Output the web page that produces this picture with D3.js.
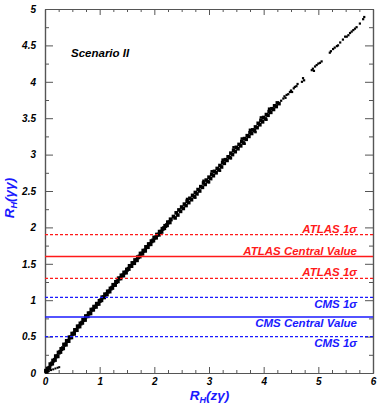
<!DOCTYPE html>
<html><head><meta charset="utf-8">
<script src="https://cdn.jsdelivr.net/npm/d3@7"></script>
<style>
html,body{margin:0;padding:0;background:#fff;}
svg text{font-family:"Liberation Sans",Arial,sans-serif;font-weight:bold;font-style:italic;}
</style></head>
<body>
<svg id="c" width="380" height="409"></svg>
<script>
// ---- data ----
const xTicks = [0,1,2,3,4,5,6];
const yTicks = [0,0.5,1,1.5,2,2.5,3,3.5,4,4.5,5];
const lineValues = [1.9, 1.6, 1.3, 1.04, 0.77, 0.5];
const lineLabels = ["ATLAS 1σ","ATLAS Central Value","ATLAS 1σ","CMS 1σ","CMS Central Value","CMS 1σ"];
const lineGroup  = ["ATLAS","ATLAS","ATLAS","CMS","CMS","CMS"];
const lineDashed = [true,false,true,true,false,true];

// scan points (R_H(zγ), R_H(γγ))
const hookPts = [[0.03,0.01],[0.07,0.025],[0.11,0.04],[0.15,0.05],[0.19,0.062],[0.23,0.072],[0.26,0.08]];
const lowBandA = [[0.02,0.03],[0.05,0.06],[0.10,0.12],[0.15,0.17],[0.20,0.23],[0.25,0.28],[0.30,0.33],[0.35,0.39],[0.40,0.44],[0.45,0.49],[0.50,0.54],[0.55,0.59],[0.60,0.64],[0.65,0.68],[0.70,0.73],[0.75,0.78],[0.80,0.82],[0.85,0.87],[0.90,0.91],[0.95,0.95],[1.00,0.99],[1.05,1.04],[1.10,1.08],[1.15,1.12],[1.20,1.16],[1.25,1.21],[1.30,1.25],[1.35,1.30],[1.40,1.34],[1.45,1.38],[1.50,1.42],[1.55,1.47],[1.60,1.51],[1.65,1.55],[1.70,1.59],[1.75,1.64],[1.80,1.68],[1.85,1.73],[1.90,1.77],[1.95,1.81],[2.00,1.86],[2.05,1.90],[2.10,1.94],[2.15,1.98],[2.20,2.02],[2.25,2.07],[2.30,2.11]];
const lowBandB = [[0.03,0.02],[0.08,0.07],[0.13,0.13],[0.18,0.18],[0.23,0.23],[0.28,0.29],[0.33,0.34],[0.38,0.39],[0.43,0.44],[0.48,0.49],[0.53,0.54],[0.58,0.59],[0.63,0.64],[0.68,0.69],[0.73,0.73],[0.78,0.78],[0.83,0.82],[0.88,0.87],[0.93,0.91],[0.98,0.95],[1.03,1.00],[1.08,1.04],[1.13,1.08],[1.18,1.12],[1.23,1.17],[1.28,1.21],[1.33,1.26],[1.38,1.30],[1.43,1.34],[1.48,1.38],[1.53,1.43],[1.58,1.47],[1.63,1.51],[1.68,1.55],[1.73,1.60],[1.78,1.64],[1.83,1.68],[1.88,1.73],[1.93,1.77],[1.98,1.82],[2.03,1.86],[2.08,1.90],[2.13,1.94],[2.18,1.99],[2.23,2.03],[2.28,2.07]];
const midBandC = [[2.35,2.15],[2.40,2.20],[2.45,2.24],[2.50,2.28],[2.55,2.32],[2.60,2.36],[2.65,2.40],[2.70,2.44],[2.75,2.48],[2.80,2.52],[2.85,2.56],[2.90,2.61],[2.95,2.65],[3.00,2.69],[3.05,2.73],[3.10,2.77],[3.15,2.81],[3.20,2.85],[3.25,2.89],[3.30,2.93],[3.35,2.97],[3.40,3.02],[3.45,3.06],[3.50,3.10],[3.55,3.14],[3.60,3.18],[3.65,3.22],[3.70,3.26],[3.75,3.30],[3.80,3.34],[3.85,3.38],[3.90,3.43],[3.95,3.47],[4.00,3.51],[4.05,3.55],[4.10,3.59],[4.15,3.63],[4.20,3.67],[4.25,3.71]];
const midBandD = [[2.38,2.13],[2.43,2.17],[2.48,2.22],[2.53,2.26],[2.58,2.30],[2.63,2.34],[2.68,2.38],[2.73,2.42],[2.78,2.46],[2.83,2.50],[2.88,2.55],[2.93,2.59],[2.98,2.63],[3.03,2.67],[3.08,2.71],[3.13,2.75],[3.18,2.79],[3.23,2.83],[3.28,2.88],[3.33,2.92],[3.38,2.96],[3.43,3.00],[3.48,3.04],[3.53,3.08],[3.58,3.12],[3.63,3.16],[3.68,3.21],[3.73,3.25],[3.78,3.29],[3.83,3.33],[3.88,3.37],[3.93,3.41],[3.98,3.45],[4.03,3.49],[4.08,3.54],[4.13,3.58],[4.18,3.62],[4.23,3.66],[4.28,3.70]];
const midBandE = [[2.60,2.39],[2.90,2.64],[3.05,2.77],[3.25,2.93],[3.45,3.10],[3.60,3.22],[3.75,3.34],[3.95,3.51],[4.10,3.63],[2.75,2.41],[3.00,2.62],[3.20,2.78],[3.40,2.95],[3.65,3.15],[3.85,3.31],[4.05,3.48]];
const tailPts = [[4.32,3.74],[4.36,3.77],[4.38,3.80],[4.40,3.78],[4.42,3.82],[4.45,3.83],[4.48,3.86],[4.50,3.88],[4.52,3.86],[4.55,3.91],[4.57,3.93],[4.60,3.94],[4.62,3.97],[4.70,4.00],[4.72,4.05],[4.74,4.02],[4.88,4.16],[4.90,4.18],[4.92,4.15],[4.94,4.21],[4.97,4.23],[5.00,4.25],[5.03,4.26],[5.06,4.28],[5.21,4.40],[5.23,4.42],[5.27,4.45],[5.30,4.47],[5.34,4.49],[5.36,4.50],[5.40,4.54],[5.45,4.58],[5.49,4.62],[5.52,4.62],[5.55,4.64],[5.58,4.67],[5.61,4.69],[5.64,4.71],[5.67,4.73],[5.70,4.75],[5.76,4.80],[5.82,4.86],[5.84,4.89]];

// ---- drawing ----
const svg = d3.select("#c");
const L=45, R=373, T=9, B=373;
const x = d3.scaleLinear().domain([0,6]).range([L,R]);
const y = d3.scaleLinear().domain([0,5]).range([B,T]);
const axisCol = "#555";

const xMinor = d3.range(0,6.001,0.25).filter(v=>Math.abs(v-Math.round(v))>1e-6);
const yMinor = d3.range(0,5.001,0.25).filter(v=>Math.abs(v*2-Math.round(v*2))>1e-6);

function styleAxis(g){
  g.select(".domain").attr("stroke",axisCol).attr("stroke-width",1.2);
  g.selectAll(".tick line").attr("stroke",axisCol);
  g.selectAll(".tick text").attr("fill","#000").style("font-size","10px")
    .style("font-family","'Liberation Sans',Arial,sans-serif").style("font-weight","bold").style("font-style","italic");
}
svg.append("g").attr("transform",`translate(0,${B})`)
  .call(d3.axisBottom(x).tickValues(xTicks).tickFormat(d3.format("d")).tickSize(-6).tickPadding(5).tickSizeOuter(0))
  .call(styleAxis);
svg.append("g").attr("transform",`translate(0,${B})`)
  .call(d3.axisBottom(x).tickValues(xMinor).tickFormat("").tickSize(-3).tickSizeOuter(0)).call(styleAxis);
svg.append("g").attr("transform",`translate(0,${T})`)
  .call(d3.axisTop(x).tickValues(xTicks).tickFormat("").tickSize(-6).tickSizeOuter(0)).call(styleAxis);
svg.append("g").attr("transform",`translate(0,${T})`)
  .call(d3.axisTop(x).tickValues(xMinor).tickFormat("").tickSize(-3).tickSizeOuter(0)).call(styleAxis);
svg.append("g").attr("transform",`translate(${L},0)`)
  .call(d3.axisLeft(y).tickValues(yTicks).tickFormat(d=>d3.format("")(d)).tickSize(-8).tickPadding(9).tickSizeOuter(0))
  .call(styleAxis);
svg.append("g").attr("transform",`translate(${L},0)`)
  .call(d3.axisLeft(y).tickValues(yMinor).tickFormat("").tickSize(-4).tickSizeOuter(0)).call(styleAxis);
svg.append("g").attr("transform",`translate(${R},0)`)
  .call(d3.axisRight(y).tickValues(yTicks).tickFormat("").tickSize(-8).tickSizeOuter(0)).call(styleAxis);
svg.append("g").attr("transform",`translate(${R},0)`)
  .call(d3.axisRight(y).tickValues(yMinor).tickFormat("").tickSize(-4).tickSizeOuter(0)).call(styleAxis);

// points: dense band drawn with larger overlapping markers, tail with small dots
function drawPts(data, s){
  svg.append("g").selectAll("rect").data(data).join("rect")
    .attr("x",d=>x(d[0])-s/2).attr("y",d=>y(d[1])-s/2).attr("width",s).attr("height",s).attr("fill","#000");
}
drawPts([].concat(lowBandA, lowBandB), 4);
drawPts([].concat(midBandC, midBandD), 3.6);
drawPts(midBandE, 2.6);
drawPts(tailPts, 2.2);
drawPts(hookPts, 2);

// reference lines
const colorOf = g => g==="ATLAS" ? "#ff1a1a" : "#1a1aff";
const lines = lineValues.map((v,i)=>({v, label:lineLabels[i], g:lineGroup[i], dashed:lineDashed[i]}));
svg.append("g").selectAll("line").data(lines).join("line")
  .attr("x1",x(0)).attr("x2",x(6)).attr("y1",d=>y(d.v)).attr("y2",d=>y(d.v))
  .attr("stroke",d=>colorOf(d.g)).attr("stroke-width",d=>d.dashed?1.3:1.6)
  .attr("stroke-dasharray",d=>d.dashed?"3,2":null);
svg.append("g").selectAll("text").data(lines).join("text")
  .attr("x",357).attr("y",d=>d.g==="ATLAS" ? y(d.v)-2 : y(d.v)+10.5)
  .attr("text-anchor","end").attr("fill",d=>colorOf(d.g)).style("font-size","11.5px")
  .text(d=>d.label);

svg.append("text").attr("x",71).attr("y",57).style("font-size","11.5px").attr("fill","#000").text("Scenario II");

const xt = svg.append("text").attr("x",209.5).attr("y",400).attr("text-anchor","middle")
  .attr("fill","#1a1aff").style("font-size","13.5px");
xt.append("tspan").text("R");
xt.append("tspan").attr("dy",3).style("font-size","9px").text("H");
xt.append("tspan").attr("dy",-3).text("(zγ)");

const yt = svg.append("text").attr("transform","translate(14,198) rotate(-90)").attr("text-anchor","middle")
  .attr("fill","#1a1aff").style("font-size","13.5px");
yt.append("tspan").text("R");
yt.append("tspan").attr("dy",3).style("font-size","9px").text("H");
yt.append("tspan").attr("dy",-3).text("(γγ)");
</script>
</body></html>
